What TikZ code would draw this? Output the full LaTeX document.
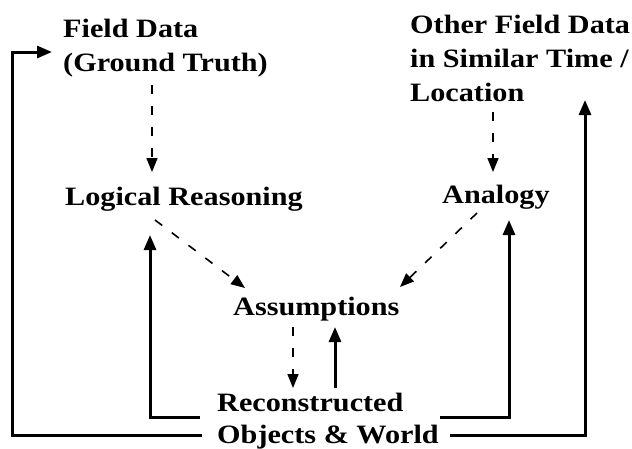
\documentclass[tikz,border=0pt]{standalone}
\usepackage{fontspec}
\setmainfont{Liberation Serif}[FakeStretch=1.14]
\usetikzlibrary{arrows.meta}
\begin{document}
\begin{tikzpicture}[x=1pt,y=-1pt,
  txt/.style={inner sep=0pt, font=\fontsize{26.5}{34}\selectfont\bfseries, align=left},
  solidarrow/.style={line width=3pt, -{Triangle[length=15pt,width=12pt]}},
  dasharrow/.style={line width=1.6pt, dash pattern=on 9pt off 12pt, -{Triangle[length=14pt,width=11pt]}}]
\useasboundingbox (0,0) rectangle (632,448);
% text nodes
\node[txt, anchor=north west] (fd) at (63,19) {Field Data\\(Ground Truth)};
\node[txt, anchor=north west] (ofd) at (410,15) {Other Field Data\\in Similar Time /\\Location};
\node[txt, anchor=base west] (lr) at (65,205) {Logical Reasoning};
\node[txt, anchor=base west] (an) at (442,203) {Analogy};
\node[txt, anchor=base west] (as) at (233,315) {Assumptions};
\node[txt, anchor=north west, font=\fontsize{26.5}{32}\selectfont\bfseries] (rw) at (217,393) {Reconstructed\\Objects \& World};
% ports
\coordinate (fd-out) at (152,85);
\coordinate (lr-in) at (152,172);
\coordinate (ofd-out) at (493,112);
\coordinate (an-in) at (493,172);
\coordinate (lr-out) at (155,220);
\coordinate (as-inl) at (245,288);
\coordinate (an-out) at (477,213);
\coordinate (as-inr) at (400,287);
\coordinate (as-out) at (293,327);
\coordinate (rw-in) at (293,388);
\coordinate (rw-up) at (335,388);
\coordinate (as-in) at (335,327);
\coordinate (rw-l) at (200,417);
\coordinate (lr-inb) at (150,235);
\coordinate (rw-r) at (440,417);
\coordinate (an-inb) at (509,220);
\coordinate (rw-bl) at (202,435);
\coordinate (fd-in) at (52,52);
\coordinate (rw-br) at (450,435);
\coordinate (ofd-in) at (585,100);
% dashed
\draw[dasharrow] (fd-out) -- (lr-in);
\draw[dasharrow] (ofd-out) -- (an-in);
\draw[dasharrow] (lr-out) -- (as-inl);
\draw[dasharrow] (an-out) -- (as-inr);
\draw[dasharrow] (as-out) -- (rw-in);
% solid
\draw[solidarrow] (rw-up) -- (as-in);
\draw[solidarrow] (rw-l) -| (lr-inb);
\draw[solidarrow] (rw-r) -| (an-inb);
\draw[solidarrow] (rw-bl) -- (12,435) |- (fd-in);
\draw[solidarrow] (rw-br) -| (ofd-in);
\end{tikzpicture}
\end{document}
